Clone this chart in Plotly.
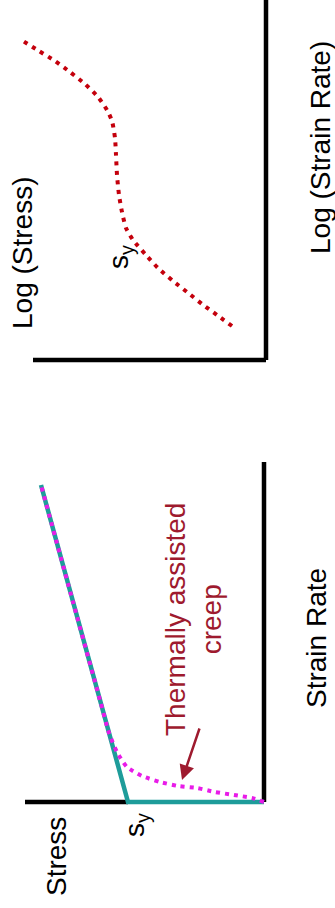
import plotly.graph_objects as go

# ---------------- data (arbitrary units) ----------------
# Lower panel: Stress vs Strain Rate
lin_stress = [0.0, 13.6, 22.3]
lin_rate = [0.0, 0.0, 31.7]
creep_stress = [0.0, 1.2, 3.0, 4.9, 6.7, 8.6, 10.4, 12.2, 13.7, 14.7, 15.5, 16.35, 19.1, 22.3]
creep_rate = [0.0, 0.4, 0.7, 1.0, 1.4, 1.6, 2.0, 2.6, 3.5, 5.0, 6.9, 10.0, 20.0, 31.7]
ax1_stress = [13.6, 23.9]
ax1_stress_rate = [0.0, 0.0]
ax1_rate_stress = [0.0, 0.0]
ax1_rate = [0.0, 34.0]

# Upper panel: Log(Stress) vs Log(Strain Rate)
log_stress = [3.4, 4.9, 6.4, 7.9, 9.3, 10.8, 12.0, 13.3, 14.0, 14.4, 14.7, 14.9, 15.0,
              15.1, 15.4, 15.9, 16.8, 18.1, 19.6, 21.1, 22.7, 24.3]
log_rate = [3.4, 4.5, 5.6, 6.8, 7.9, 9.2, 10.5, 12.0, 13.2, 14.8, 16.5, 18.5, 20.5,
            22.2, 23.9, 25.0, 26.3, 27.6, 28.8, 29.9, 30.9, 31.9]
ax2_stress = [0.0, 23.3]
ax2_stress_rate = [0.0, 0.0]
ax2_rate_stress = [0.0, 0.0]
ax2_rate = [0.0, 37.0]

TEAL = "#1E9C9A"
MAGENTA = "#E81CE8"
RED = "#C4000C"
DARKRED = "#9E1A2E"
FONT = "Liberation Sans, Arial, sans-serif"

fig = go.Figure()

# lower panel axes lines
fig.add_trace(go.Scatter(x=ax1_stress, y=ax1_stress_rate, mode="lines",
                         line=dict(color="black", width=4.5), xaxis="x", yaxis="y"))
fig.add_trace(go.Scatter(x=ax1_rate_stress, y=ax1_rate, mode="lines",
                         line=dict(color="black", width=4.5), xaxis="x", yaxis="y"))
fig.add_trace(go.Scatter(x=lin_stress, y=lin_rate, mode="lines",
                         line=dict(color=TEAL, width=4.5), xaxis="x", yaxis="y"))
fig.add_trace(go.Scatter(x=creep_stress, y=creep_rate, mode="lines",
                         line=dict(color=MAGENTA, width=4, dash="4px,5px", shape="spline", smoothing=0.6),
                         xaxis="x", yaxis="y"))

# upper panel
fig.add_trace(go.Scatter(x=ax2_stress, y=ax2_stress_rate, mode="lines",
                         line=dict(color="black", width=4.5), xaxis="x2", yaxis="y2"))
fig.add_trace(go.Scatter(x=ax2_rate_stress, y=ax2_rate, mode="lines",
                         line=dict(color="black", width=4.5), xaxis="x2", yaxis="y2"))
fig.add_trace(go.Scatter(x=log_stress, y=log_rate, mode="lines",
                         line=dict(color=RED, width=4, dash="4px,5.5px", shape="spline", smoothing=0.6),
                         xaxis="x2", yaxis="y2"))

def ann(text, x, y, xref, yref, color="black", size=28):
    fig.add_annotation(text=text, x=x, y=y, xref=xref, yref=yref, showarrow=False,
                       textangle=-90, font=dict(family=FONT, size=size, color=color),
                       xanchor="center", yanchor="middle")

ann("Stress", 20.8, -5.5, "x", "y")
ann("s<sub>y</sub>", 12.8, -2.3, "x", "y")
ann("Strain Rate", -5.2, 16.4, "x", "y")
ann("Thermally assisted<br>creep", 7.1, 18.2, "x", "y", color=DARKRED)
fig.add_annotation(x=8.2, y=2.2, ax=6.4, ay=7.5, xref="x", yref="y", axref="x", ayref="y",
                   text="", showarrow=True, arrowhead=2, arrowsize=1.2, arrowwidth=2.5,
                   arrowcolor=DARKRED)

ann("Log (Stress)", 24.4, 10.7, "x2", "y2")
ann("Log (Strain Rate)", -5.4, 21.2, "x2", "y2")
ann("s<sub>y</sub>", 14.6, 10.3, "x2", "y2")

hidden = dict(visible=False, showgrid=False, zeroline=False, fixedrange=True)
fig.update_layout(
    width=335, height=908, autosize=False,
    margin=dict(l=0, r=0, t=0, b=0),
    paper_bgcolor="white", plot_bgcolor="white",
    showlegend=False,
    xaxis=dict(range=[26.4, -7.1], domain=[0, 1], **hidden),
    yaxis=dict(range=[-10.6, 80.2], domain=[0, 1], **hidden),
    xaxis2=dict(range=[26.6, -6.9], domain=[0, 1], anchor="y2", overlaying="x", **hidden),
    yaxis2=dict(range=[-54.8, 36.0], domain=[0, 1], anchor="x2", overlaying="y", **hidden),
)

fig.write_html("out.html", config={"displayModeBar": False},
               post_script="document.body.style.margin='0';document.body.style.overflow='hidden';")
